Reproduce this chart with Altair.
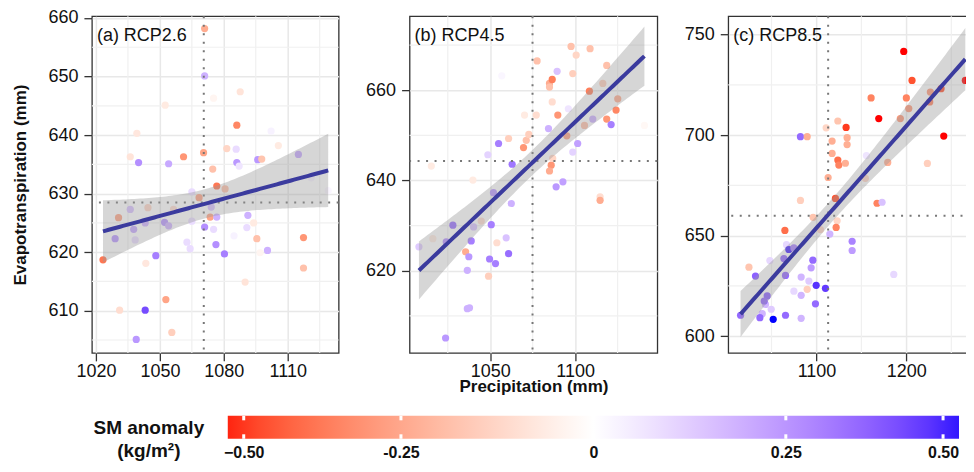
import math
import numpy as np
import pandas as pd
import altair as alt

FONT = "Liberation Sans"

# ---------------- data ----------------
# Panel (a) RCP2.6
a_precip = [1071.0, 1071.0, 1052.5, 1087.7, 1075.2, 1039.2, 1086.1, 1102.2, 1036.1, 1040.0,
            1054.1, 1061.1, 1070.5, 1074.8, 1081.4, 1085.8, 1086.1, 1087.2, 1095.9, 1097.8,
            1105.6, 1115.0, 1076.7, 1080.6, 1068.4, 1065.0, 1023.3, 1029.0, 1030.6, 1037.7,
            1038.4, 1036.1, 1044.4, 1043.1, 1052.2, 1054.1, 1056.4, 1062.7, 1064.2, 1065.0,
            1048.1, 1043.4, 1071.0, 1073.6, 1074.1, 1076.7, 1075.2, 1076.3, 1080.3, 1084.8,
            1091.3, 1090.8, 1094.0, 1095.5, 1100.5, 1097.0, 1117.4, 1117.4, 1090.0, 1031.1,
            1043.1, 1052.8, 1038.9, 1055.6, 1121.0, 1129.0]
a_et = [658.2, 650.1, 645.1, 647.4, 646.3, 640.3, 641.7, 640.7, 636.3, 635.3,
        635.1, 636.3, 637.0, 634.2, 637.7, 637.6, 635.3, 634.7, 635.8, 635.9,
        638.2, 636.7, 631.3, 630.8, 629.3, 630.3, 618.7, 622.3, 625.9, 623.9,
        622.1, 627.3, 627.6, 625.0, 625.1, 624.5, 627.3, 621.7, 620.6, 625.3,
        619.4, 618.1, 624.3, 626.0, 627.7, 626.0, 623.9, 621.3, 619.7, 622.8,
        626.3, 624.2, 625.0, 622.3, 620.3, 619.9, 622.5, 617.3, 614.9, 610.1,
        610.1, 611.9, 605.1, 606.3, 632.7, 630.5]
a_sm = [-0.24, 0.18, -0.06, -0.08, -0.03, -0.07, -0.34, 0.03, -0.08, 0.26,
        0.20, -0.30, -0.26, -0.18, -0.12, 0.08, 0.24, 0.06, 0.24, -0.17,
        -0.06, 0.20, -0.38, -0.18, -0.26, 0.08, -0.38, 0.24, -0.26, 0.20,
        0.08, 0.14, -0.12, 0.17, 0.24, 0.17, -0.10, 0.08, 0.08, 0.08,
        0.30, -0.07, 0.26, -0.26, 0.14, 0.18, 0.08, 0.26, 0.30, 0.03,
        0.18, 0.08, -0.06, -0.18, 0.18, -0.03, -0.30, -0.18, -0.08, -0.10,
        0.42, -0.26, 0.24, -0.14, 0.03, 0.02]

# Panel (b) RCP4.5
b_precip = [1015.3, 1039.8, 1056.8, 1054.9, 1048.6, 1060.8, 1062.9, 1069.6, 1071.2, 1072.7,
            1070.2, 1077.6, 1077.1, 1084.9, 1086.5, 1084.9, 1089.4, 1084.3, 1086.5, 1089.8,
            1085.9, 1084.9, 1086.8, 1097.6, 1100.6, 1098.6, 1108.8, 1096.0, 1095.1, 1101.5,
            1098.6, 1108.4, 1105.5, 1110.4, 1116.3, 1118.6, 1125.1, 1124.1, 1118.6, 1121.2,
            1140.8, 1088.8, 1092.8, 1051.9, 1062.4, 1114.7, 1114.7, 1028.0, 1050.6, 1040.2,
            1044.7, 1024.1, 1008.0, 1016.2, 1038.8, 1035.5, 1037.4, 1053.9, 1059.4, 1049.6,
            1053.1, 1060.8, 1036.5, 1049.0, 1036.5, 1037.8, 1023.7]
b_et = [643.2, 640.1, 663.2, 648.2, 645.7, 649.3, 643.6, 647.3, 648.9, 650.2,
        654.5, 666.5, 654.5, 661.5, 662.4, 660.7, 664.2, 651.5, 657.4, 654.5,
        643.4, 642.1, 644.9, 669.7, 667.8, 663.7, 669.2, 655.9, 649.9, 648.2,
        646.3, 659.8, 652.2, 653.6, 661.5, 665.5, 658.1, 655.6, 653.6, 652.4,
        652.2, 638.6, 639.7, 637.3, 634.9, 636.4, 635.6, 630.1, 630.2, 629.7,
        631.0, 626.4, 625.3, 627.1, 626.6, 624.2, 623.1, 626.2, 627.3, 622.6,
        621.6, 623.8, 620.1, 618.8, 611.6, 611.8, 605.1]
b_sm = [-0.06, -0.06, 0.02, 0.30, 0.10, -0.14, 0.32, -0.30, -0.18, -0.14,
        -0.06, -0.18, -0.10, -0.24, -0.36, -0.18, 0.14, 0.18, -0.10, -0.30,
        -0.30, -0.24, -0.12, -0.18, -0.12, -0.14, -0.18, 0.06, -0.26, 0.22,
        0.10, -0.36, -0.18, 0.18, -0.14, -0.18, -0.24, -0.34, -0.30, 0.30,
        -0.02, 0.24, 0.22, 0.24, 0.18, -0.10, -0.24, 0.34, 0.30, 0.14,
        -0.10, 0.26, 0.12, -0.06, 0.30, -0.24, 0.24, -0.10, 0.14, 0.30,
        0.30, 0.34, 0.18, -0.14, 0.18, 0.18, 0.24]

# Panel (c) RCP8.5
c_precip = [1197.1, 1206.3, 1265.6, 1238.6, 1226.7, 1226.0, 1160.8, 1200.0, 1202.7, 1193.3,
            1169.3, 1241.6, 1133.0, 1123.8, 1110.8, 1082.2, 1089.7, 1134.1, 1117.4, 1134.1,
            1117.4, 1123.8, 1124.9, 1132.2, 1155.6, 1179.3, 1223.4, 1113.0, 1154.4, 1121.1,
            1082.2, 1167.4, 1173.0, 1096.3, 1104.4, 1123.0, 1121.9, 1114.9, 1064.9, 1066.7,
            1069.3, 1074.9, 1063.8, 1048.2, 1096.0, 1094.1, 1139.7, 1139.7, 1024.9, 1032.2,
            1065.6, 1083.0, 1091.6, 1099.7, 1110.0, 1089.7, 1074.9, 1083.0, 1045.2, 1043.3,
            1049.7, 1039.7, 1037.1, 1015.6, 1051.9, 1065.6, 1083.0, 1098.9, 1186.0, 1041.9]
c_et = [741.6, 727.2, 727.2, 723.1, 721.4, 716.5, 718.5, 718.5, 713.2, 708.2,
        708.2, 699.5, 703.8, 707.0, 703.6, 699.2, 699.2, 698.7, 697.0, 695.3,
        690.9, 687.6, 685.1, 686.0, 689.8, 686.4, 685.9, 678.9, 678.5, 668.5,
        667.5, 666.1, 666.6, 659.1, 653.0, 657.4, 654.1, 650.8, 652.6, 645.5,
        643.1, 643.9, 638.6, 637.6, 637.8, 634.0, 647.2, 642.6, 634.3, 629.9,
        630.2, 629.4, 627.4, 625.3, 623.8, 623.3, 622.4, 620.3, 620.0, 615.8,
        613.4, 611.2, 609.2, 610.4, 608.4, 610.4, 608.9, 616.1, 630.7, 617.5]
c_sm = [-0.60, -0.46, -0.55, -0.46, -0.29, -0.35, -0.35, -0.35, -0.29, -0.29,
        -0.60, -0.60, -0.50, -0.17, -0.12, 0.35, -0.23, -0.23, -0.23, -0.23,
        -0.23, -0.40, -0.35, -0.23, 0.06, -0.23, -0.14, -0.23, -0.12, -0.46,
        -0.14, -0.35, 0.14, -0.17, -0.12, -0.12, -0.35, 0.17, -0.40, 0.09,
        0.50, 0.29, 0.35, 0.09, 0.35, 0.23, 0.29, 0.23, -0.17, 0.37,
        0.35, 0.17, 0.12, 0.48, 0.46, -0.14, 0.09, 0.17, 0.37, 0.17,
        0.12, 0.17, 0.35, 0.35, 0.60, 0.35, 0.17, 0.35, 0.09, 0.35]

# Means shown as dotted lines
means_precip = [1070.6, 1074.9, 1113.0]
means_et = [628.5, 644.3, 659.9]

panel_labels = ["(a) RCP2.6", "(b) RCP4.5", "(c) RCP8.5"]

# Axis ticks
a_xticks, a_xminor = [1020, 1050, 1080, 1110], [1035, 1065, 1095, 1125]
a_yticks, a_yminor = [610, 620, 630, 640, 650, 660], [605, 615, 625, 635, 645, 655]
b_xticks, b_xminor = [1050, 1100], [1025, 1075, 1125]
b_yticks, b_yminor = [620, 640, 660], [610, 630, 650, 670]
c_xticks, c_xminor = [1100, 1200], [1050, 1150, 1250]
c_yticks, c_yminor = [600, 650, 700, 750], [625, 675, 725]

cbar_ticks = [-0.5, -0.25, 0, 0.25, 0.5]
cbar_limits = [-0.528, 0.528]
sm_domain = [-0.55, 0, 0.55]
sm_colors = ["#FF0000", "#FFFFFF", "#0000FF"]

PANEL_H = 337
LINE_COL = "#3B3B9E"
TXT = "#111111"

color_scale = alt.Scale(domain=sm_domain, range=sm_colors, interpolate="lab", clamp=True)


def fit_band(xs, ys, npts=80):
    x = np.asarray(xs, float)
    y = np.asarray(ys, float)
    n = len(x)
    slope, icpt = np.polyfit(x, y, 1)
    resid = y - (icpt + slope * x)
    s = math.sqrt((resid ** 2).sum() / (n - 2))
    sxx = ((x - x.mean()) ** 2).sum()
    xg = np.linspace(x.min(), x.max(), npts)
    yh = icpt + slope * xg
    se = s * np.sqrt(1.0 / n + (xg - x.mean()) ** 2 / sxx)
    t = 2.0
    return pd.DataFrame({"precip": xg, "fit": yh, "lo": yh - t * se, "hi": yh + t * se})


def panel(px, et, sm, label, xdom, ydom, xt, xm, yt, ym, xmean, ymean, width,
          ytitle=None, xtitle=None):
    xs = alt.Scale(domain=xdom, nice=False, zero=False)
    ys = alt.Scale(domain=ydom, nice=False, zero=False)
    xax = alt.Axis(values=xt, title=xtitle, format="d")
    yax = alt.Axis(values=yt, title=ytitle, format="d")

    def X(f):
        return alt.X(f"{f}:Q", scale=xs, axis=xax)

    def Y(f):
        return alt.Y(f"{f}:Q", scale=ys, axis=yax)

    pts = pd.DataFrame({"precip": px, "et": et, "sm": sm})
    band = fit_band(px, et)

    layers = [
        alt.Chart(pd.DataFrame({"precip": xm})).mark_rule(color="#F0F0F0", strokeWidth=1.2)
        .encode(x=X("precip")),
        alt.Chart(pd.DataFrame({"et": ym})).mark_rule(color="#F0F0F0", strokeWidth=1.2)
        .encode(y=Y("et")),
        alt.Chart(pts).mark_circle(size=52, opacity=1)
        .encode(x=X("precip"), y=Y("et"),
                color=alt.Color("sm:Q", scale=color_scale, legend=None)),
        alt.Chart(pd.DataFrame({"precip": [xmean]})).mark_rule(
            color="#777777", strokeWidth=2, strokeDash=[2, 6.5]).encode(x=X("precip")),
        alt.Chart(pd.DataFrame({"et": [ymean]})).mark_rule(
            color="#777777", strokeWidth=2, strokeDash=[2, 6.5]).encode(y=Y("et")),
        alt.Chart(band).mark_area(color="#999999", opacity=0.4)
        .encode(x=X("precip"), y=Y("lo"), y2="hi"),
        alt.Chart(band).mark_line(color=LINE_COL, strokeWidth=4)
        .encode(x=X("precip"), y=Y("fit")),
        alt.Chart(pd.DataFrame({"t": [label]})).mark_text(
            align="left", baseline="alphabetic", fontSize=18, font=FONT, color=TXT)
        .encode(x=alt.value(5), y=alt.value(25), text="t:N"),
    ]
    return alt.layer(*layers).properties(width=width, height=PANEL_H)


pa = panel(a_precip, a_et, a_sm, panel_labels[0], [1018.1, 1133.9], [602.8, 660.3],
           a_xticks, a_xminor, a_yticks, a_yminor, means_precip[0], means_et[0], 247,
           ytitle="Evapotranspiration (mm)")
pb = panel(b_precip, b_et, b_sm, panel_labels[1], [1002.5, 1148.4], [601.8, 676.4],
           b_xticks, b_xminor, b_yticks, b_yminor, means_precip[1], means_et[1], 248,
           xtitle="Precipitation (mm)")
pc = panel(c_precip, c_et, c_sm, panel_labels[2], [1001.9, 1271.9], [591.7, 759.1],
           c_xticks, c_xminor, c_yticks, c_yminor, means_precip[2], means_et[2], 243)

row = alt.hconcat(pa, pb, pc, spacing=24)


# ---------------- colour bar ----------------
def _lin(c):
    c = c / 255.0
    return c / 12.92 if c <= 0.04045 else ((c + 0.055) / 1.055) ** 2.4


def _gam(c):
    c = 12.92 * c if c <= 0.0031308 else 1.055 * (max(c, 0) ** (1 / 2.4)) - 0.055
    return int(max(0, min(255, round(c * 255))))


WN = (0.95047, 1.0, 1.08883)


def _f(t):
    d = 6 / 29
    return t ** (1 / 3) if t > d ** 3 else t / (3 * d * d) + 4 / 29


def _finv(t):
    d = 6 / 29
    return t ** 3 if t > d else 3 * d * d * (t - 4 / 29)


def to_lab(h):
    r, g, b = (_lin(int(h[i:i + 2], 16)) for i in (1, 3, 5))
    X = 0.4124 * r + 0.3576 * g + 0.1805 * b
    Y = 0.2126 * r + 0.7152 * g + 0.0722 * b
    Z = 0.0193 * r + 0.1192 * g + 0.9505 * b
    fx, fy, fz = _f(X / WN[0]), _f(Y / WN[1]), _f(Z / WN[2])
    return 116 * fy - 16, 500 * (fx - fy), 200 * (fy - fz)


def from_lab(L, a, b):
    fy = (L + 16) / 116
    X = WN[0] * _finv(fy + a / 500)
    Y = WN[1] * _finv(fy)
    Z = WN[2] * _finv(fy - b / 200)
    r = 3.2406 * X - 1.5372 * Y - 0.4986 * Z
    g = -0.9689 * X + 1.8758 * Y + 0.0415 * Z
    bb = 0.0557 * X - 0.2040 * Y + 1.0570 * Z
    return "#%02x%02x%02x" % (_gam(r), _gam(g), _gam(bb))


def sm_color(v):
    t = max(-1.0, min(1.0, v / sm_domain[2]))
    end = to_lab(sm_colors[0] if t < 0 else sm_colors[2])
    w = to_lab(sm_colors[1])
    k = abs(t)
    return from_lab(*(w[i] + (end[i] - w[i]) * k for i in range(3)))


# colour-bar view starts at panel (a)'s left edge (concat aligns plot origins)
CB_W, CB_H = 876, 23
BAR_L, BAR_R = 136, 868
F = math.log1p(cbar_limits[1])
ppu = (BAR_R - BAR_L) / (2 * F)
ctr = BAR_L + F * ppu
cb_dom = [-math.expm1(ctr / ppu), math.expm1((CB_W - ctr) / ppu)]

stops = []
for i in range(25):
    p = i / 24
    fv = -F + 2 * F * p
    v = math.copysign(math.expm1(abs(fv)), fv)
    stops.append(alt.GradientStop(color=sm_color(v), offset=p))
grad = alt.LinearGradient(gradient="linear", stops=stops, x1=0, x2=1, y1=0, y2=0)

cb_scale = alt.Scale(type="symlog", constant=1, domain=cb_dom, nice=False, zero=False)
label_expr = ("datum.value == -0.5 ? '\u22120.50' : datum.value == -0.25 ? '-0.25' : "
              "datum.value == 0 ? '0' : format(datum.value, '.2f')")
cb_axis = alt.Axis(values=cbar_ticks, labelExpr=label_expr, domain=False, ticks=False,
                   grid=False, title=None, labelFontSize=16, labelFontWeight="bold",
                   labelPadding=6, labelColor=TXT)


def CX(f):
    return alt.X(f"{f}:Q", scale=cb_scale, axis=cb_axis)


cb_layers = [
    alt.Chart(pd.DataFrame({"lo": [cbar_limits[0]], "hi": [cbar_limits[1]]}))
    .mark_rect(fill=grad).encode(x=CX("lo"), x2="hi", y=alt.value(0), y2=alt.value(CB_H)),
    alt.Chart(pd.DataFrame({"v": cbar_ticks})).mark_rule(color="white", strokeWidth=3)
    .encode(x=CX("v"), y=alt.value(0), y2=alt.value(4.5)),
    alt.Chart(pd.DataFrame({"v": cbar_ticks})).mark_rule(color="white", strokeWidth=3)
    .encode(x=CX("v"), y=alt.value(CB_H - 4.5), y2=alt.value(CB_H)),
    alt.Chart(pd.DataFrame({"t": ["SM anomaly"]})).mark_text(
        align="center", baseline="middle", fontSize=19, fontWeight="bold", font=FONT, color=TXT)
    .encode(x=alt.value(57), y=alt.value(12), text="t:N"),
    alt.Chart(pd.DataFrame({"t": ["(kg/m\u00b2)"]})).mark_text(
        align="center", baseline="middle", fontSize=19, fontWeight="bold", font=FONT, color=TXT)
    .encode(x=alt.value(57), y=alt.value(35), text="t:N"),
]
cbar = alt.layer(*cb_layers).properties(
    width=CB_W, height=CB_H, view=alt.ViewBackground(strokeOpacity=0))

chart = (
    alt.vconcat(row, cbar, spacing=18)
    .properties(padding={"left": 3, "top": 0, "right": -8, "bottom": 0}, background="white")
    .configure(font=FONT)
    .configure_view(stroke="#333333", strokeWidth=1.3)
    .configure_axis(labelFont=FONT, labelFontSize=18, labelColor=TXT, tickColor="#333333",
                    tickWidth=1.3, tickSize=8, domain=False, gridColor="#E8E8E8",
                    gridWidth=1.5, titleFont=FONT, titleFontSize=17, titleFontWeight="bold",
                    titleColor=TXT, labelFlush=False)
    .configure_axisX(labelPadding=2, titlePadding=-2)
    .configure_axisY(labelPadding=6, titlePadding=18)
)

chart.save("out.html", embed_options={"renderer": "svg", "actions": False})
